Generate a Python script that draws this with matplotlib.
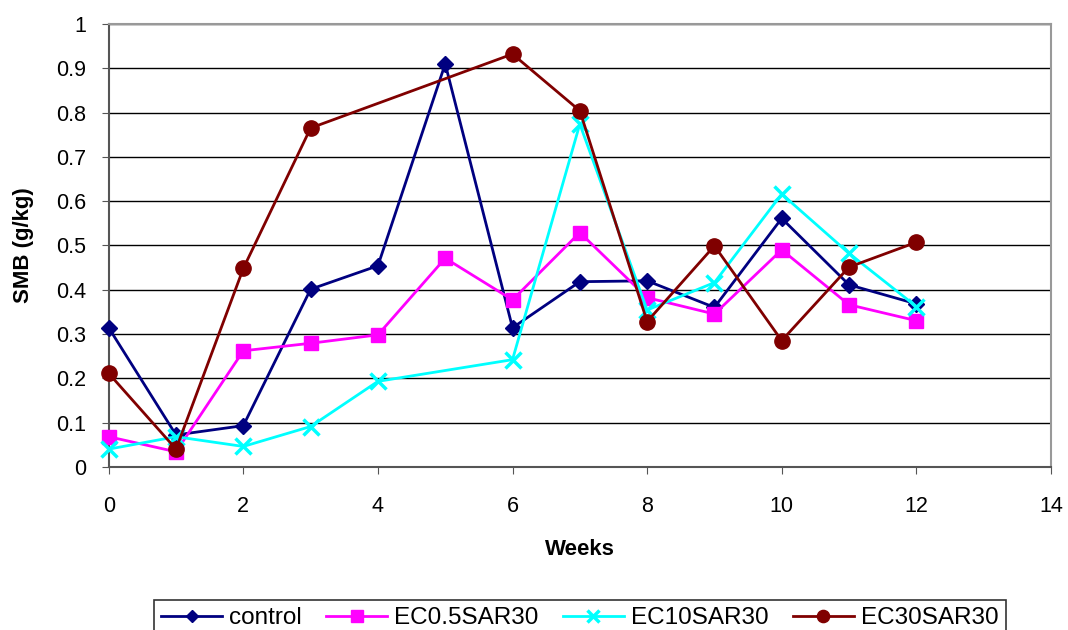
import matplotlib
matplotlib.use("Agg")
import matplotlib.pyplot as plt
import numpy as np

plt.rcParams["font.family"] = ["Liberation Sans", "DejaVu Sans"]

# ── Datos ────────────────────────────────────────────────────────────────────
weeks = [0, 1, 2, 3, 4, 5, 6, 7, 8, 9, 10, 11, 12]
control = [0.314, 0.072, 0.093, 0.401, 0.454, 0.910, 0.314, 0.418, 0.420, 0.360, 0.561, 0.411, 0.368]
ec05 = [0.068, 0.034, 0.262, 0.279, 0.298, 0.471, 0.377, 0.529, 0.382, 0.345, 0.490, 0.366, 0.330]
ec10 = [0.040, 0.068, 0.046, 0.091, 0.193, np.nan, 0.242, 0.774, 0.354, 0.416, 0.616, 0.482, 0.362]
ec30 = [0.211, 0.040, 0.448, 0.765, np.nan, np.nan, 0.932, 0.804, 0.328, 0.499, 0.285, 0.451, 0.507]

series = [
    ("control", control, "#000080", "D", 8),
    ("EC0.5SAR30", ec05, "#FF00FF", "s", 10),
    ("EC10SAR30", ec10, "#00FFFF", "x", 11),
    ("EC30SAR30", ec30, "#800000", "o", 11),
]

fig = plt.figure(figsize=(10.68, 6.30), dpi=100)
ax = fig.add_axes([0.1018, 0.259, 0.8822, 0.703])

for name, vals, col, mk, ms in series:
    v = np.array(vals, dtype=float)
    ok = ~np.isnan(v)
    x = np.array(weeks)[ok]
    ax.plot(x, v[ok], color=col, lw=2, marker=mk, ms=ms,
            mew=2.5 if mk == "x" else 1, label=name, clip_on=False, zorder=3)

ax.set_xlim(0, 14)
ax.set_ylim(0, 1)
ax.set_xticks(np.arange(0, 15, 2))
ax.set_yticks(np.arange(0, 1.01, 0.1))
ax.set_yticklabels(["0", "0.1", "0.2", "0.3", "0.4", "0.5", "0.6", "0.7", "0.8", "0.9", "1"])
ax.yaxis.grid(True, color="black", lw=1)
ax.set_axisbelow(True)
ax.tick_params(labelsize=15.5, direction="out", length=5, color="#555555")
ax.tick_params(axis="x", pad=16)
ax.tick_params(axis="y", pad=11)

for side in ["top", "right"]:
    ax.spines[side].set_color("#999999")
    ax.spines[side].set_linewidth(1.5)
for side in ["left", "bottom"]:
    ax.spines[side].set_color("#555555")
    ax.spines[side].set_linewidth(1.5)

ax.set_xlabel("Weeks", fontsize=16, fontweight="bold", labelpad=16)
ax.set_ylabel("SMB (g/kg)", fontsize=16, fontweight="bold", labelpad=16)

leg = fig.legend(loc="lower center", bbox_to_anchor=(0.543, -0.03), ncol=4,
                 fontsize=17.5, frameon=True, fancybox=False, edgecolor="black",
                 handlelength=2.5, handletextpad=0.3, columnspacing=1.0,
                 borderpad=0.3, markerscale=0.8)
leg.get_frame().set_linewidth(1.2)

fig.savefig("out.png", dpi=100)
